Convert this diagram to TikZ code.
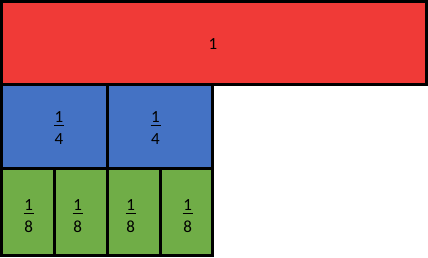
\documentclass[tikz,border=0pt]{standalone}
\usepackage{fontspec}
\setmainfont{Carlito}
\definecolor{cred}{RGB}{240,58,55}
\definecolor{cblue}{RGB}{68,114,196}
\definecolor{cgreen}{RGB}{112,173,71}
\begin{document}
\begin{tikzpicture}[x=1pt,y=-1pt,
  bar/.style={line width=3pt,draw=black},
  num/.style={anchor=base,inner sep=0pt,font=\fontsize{17}{18}\selectfont},
  fracbar/.style={line width=1.3pt}]
\useasboundingbox (0,0) rectangle (428,257);
% red whole
\path[bar,fill=cred] (1.5,1.5) rectangle (426.5,84.5);
\node[num] (one) at (213,49) {1};
% quarters
\path[bar,fill=cblue] (1.5,84.5) rectangle (107.5,168.5);
\path[bar,fill=cblue] (107.5,84.5) rectangle (212.5,168.5);
% eighths
\path[bar,fill=cgreen] (1.5,168.5) rectangle (54.5,255.5);
\path[bar,fill=cgreen] (54.5,168.5) rectangle (107.5,255.5);
\path[bar,fill=cgreen] (107.5,168.5) rectangle (160.5,255.5);
\path[bar,fill=cgreen] (160.5,168.5) rectangle (212.5,255.5);
% quarter labels
\foreach \x/\n in {59/qa,155.5/qb}{
  \node[num] (\n n) at (\x,122) {1};
  \draw[fracbar] (\x-5,125.3) -- (\x+5,125.3);
  \node[num] (\n d) at (\x,144.3) {4};
}
% eighth labels
\foreach \x/\n in {28.7/ea,77.7/eb,130.7/ec,187.7/ed}{
  \node[num] (\n n) at (\x,210) {1};
  \draw[fracbar] (\x-5,213.3) -- (\x+5,213.3);
  \node[num] (\n d) at (\x,232.7) {8};
}
\end{tikzpicture}
\end{document}
